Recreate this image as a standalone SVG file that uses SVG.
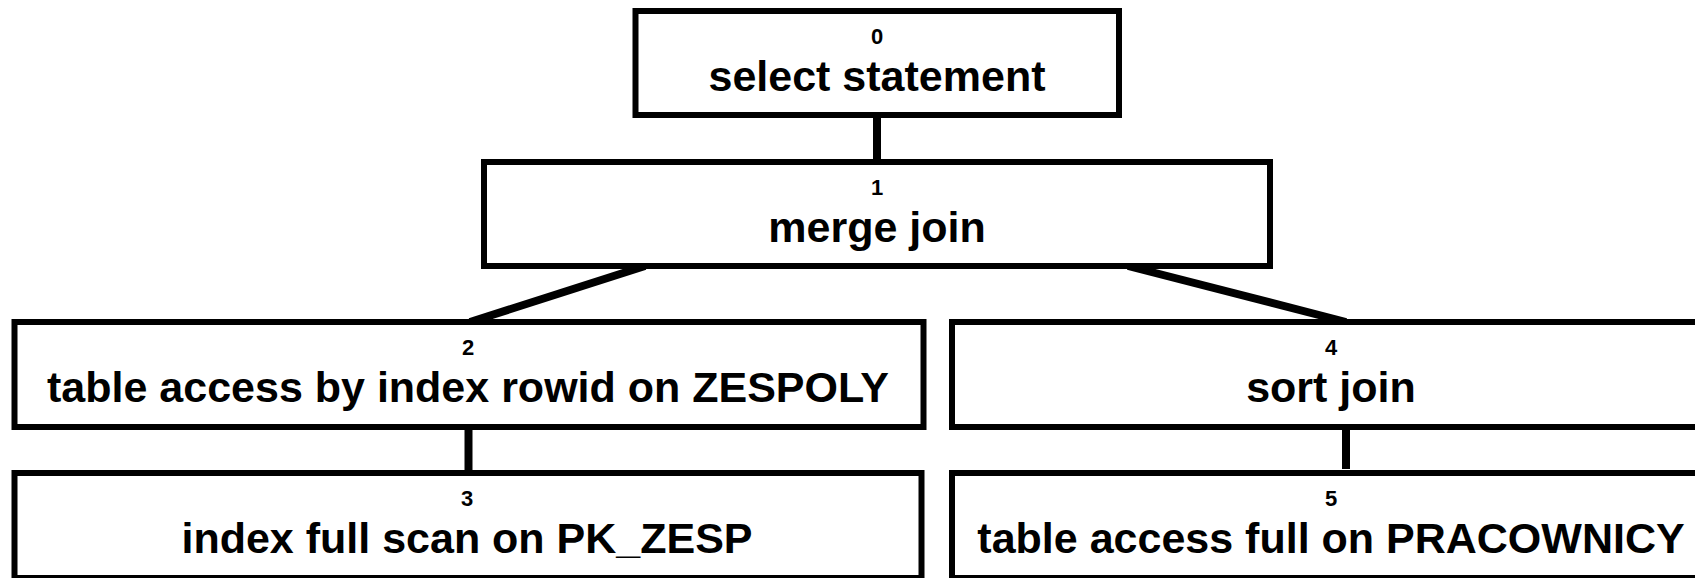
<svg xmlns="http://www.w3.org/2000/svg" width="1695" height="578" viewBox="0 0 1695 578">
<style>
.box{fill:#fff;stroke:#000;stroke-width:6}
.edge{stroke:#000;stroke-width:8;fill:none}
.num{font-family:"Liberation Sans",Arial,sans-serif;font-weight:bold;font-size:22px;text-anchor:middle;fill:#000}
.lbl{font-family:"Liberation Sans",Arial,sans-serif;font-weight:bold;font-size:43px;text-anchor:middle;fill:#000}
</style>
<rect width="1695" height="578" fill="#fff"/>
<g id="connectors">
<line class="edge" x1="877" y1="115" x2="877" y2="162"/>
<line class="edge" x1="645" y1="266" x2="470" y2="322"/>
<line class="edge" x1="1128" y1="266" x2="1346" y2="322"/>
<line class="edge" x1="468.5" y1="427" x2="468.5" y2="473"/>
<line class="edge" x1="1346" y1="427" x2="1346" y2="469"/>
</g>
<g id="node0">
<rect class="box" x="635.5" y="11" width="483.5" height="104"/>
<text class="num" x="877" y="44">0</text>
<text class="lbl" x="877" y="91">select statement</text>
</g>
<g id="node1">
<rect class="box" x="484" y="162" width="786" height="104"/>
<text class="num" x="877" y="195">1</text>
<text class="lbl" x="877" y="242">merge join</text>
</g>
<g id="node2">
<rect class="box" x="14.5" y="322" width="909" height="105"/>
<text class="num" x="468" y="355">2</text>
<text class="lbl" x="468" y="402">table access by index rowid on ZESPOLY</text>
</g>
<g id="node3">
<rect class="box" x="14.5" y="473" width="907" height="105"/>
<text class="num" x="467" y="506">3</text>
<text class="lbl" x="467" y="553">index full scan on PK_ZESP</text>
</g>
<g id="node4">
<rect class="box" x="952" y="322" width="788" height="105"/>
<text class="num" x="1331" y="355">4</text>
<text class="lbl" x="1331" y="402">sort join</text>
</g>
<g id="node5">
<rect class="box" x="952" y="473" width="788" height="105"/>
<text class="num" x="1331" y="506">5</text>
<text class="lbl" x="1331" y="553">table access full on PRACOWNICY</text>
</g>
</svg>
